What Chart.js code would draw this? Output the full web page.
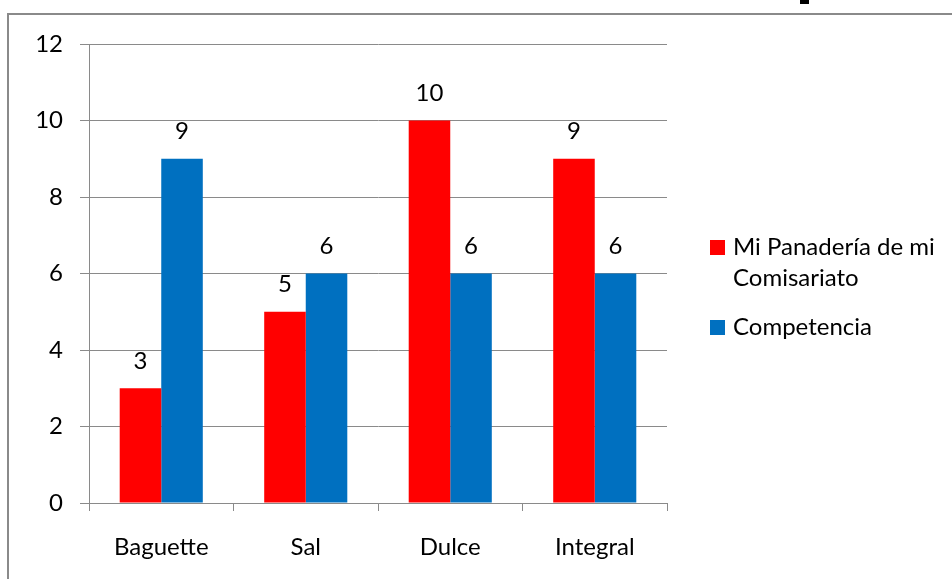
<!DOCTYPE html>
<html><head><meta charset="utf-8">
<script src="https://cdn.jsdelivr.net/npm/chart.js@4.4.0/dist/chart.umd.min.js"></script>
<style>
html,body{margin:0;padding:0;background:#fff;}
#wrap{position:relative;width:952px;height:579px;overflow:hidden;}
#frame{position:absolute;left:7px;top:13px;width:1000px;height:1000px;border-left:2px solid #8a8a8a;border-top:2px solid #8a8a8a;box-sizing:border-box;}
#mark{position:absolute;left:800px;top:0;width:9px;height:4px;background:#000;}
canvas{position:absolute;left:0;top:0;}
</style></head>
<body>
<div id="wrap"><div id="frame"></div><div id="mark"></div><canvas id="c" width="952" height="579"></canvas></div>
<script>
const categories = ["Baguette", "Sal", "Dulce", "Integral"];
const miPanaderia = [3, 5, 10, 9];
const competencia = [9, 6, 6, 6];
const seriesNames = [["Mi Panadería de mi", "Comisariato"], ["Competencia"]];
const yTicks = [0, 2, 4, 6, 8, 10, 12];

const FONT = "Lato, 'Open Sans', sans-serif";
const FSIZE = 24;

const valueLabels = {
  id: 'valueLabels',
  afterDatasetsDraw(chart) {
    const ctx = chart.ctx;
    ctx.save();
    ctx.font = FSIZE + "px " + FONT;
    ctx.fillStyle = "#000";
    ctx.textAlign = "center";
    ctx.textBaseline = "middle";
    chart.data.datasets.forEach((ds, i) => {
      chart.getDatasetMeta(i).data.forEach((bar, j) => {
        ctx.fillText(String(ds.data[j]), bar.x, bar.y - 27);
      });
    });
    ctx.restore();
  }
};

const customLegend = {
  id: 'customLegend',
  afterDraw(chart) {
    const ctx = chart.ctx;
    ctx.save();
    ctx.font = FSIZE + "px " + FONT;
    ctx.textBaseline = "middle";
    ctx.textAlign = "left";
    let y = 247;
    chart.data.datasets.forEach((ds, i) => {
      ctx.fillStyle = ds.backgroundColor;
      ctx.fillRect(710, y - 7, 15, 15);
      ctx.fillStyle = "#000";
      seriesNames[i].forEach((line, k) => {
        ctx.fillText(line, 733, y);
        y += 31;
      });
      y += 18;
    });
    ctx.restore();
  }
};

new Chart(document.getElementById('c'), {
  type: 'bar',
  data: {
    labels: categories,
    datasets: [
      { label: seriesNames[0].join(' '), data: miPanaderia, backgroundColor: '#FF0000' },
      { label: seriesNames[1].join(' '), data: competencia, backgroundColor: '#0070C0' }
    ]
  },
  options: {
    responsive: false,
    animation: false,
    devicePixelRatio: 1,
    layout: { padding: { left: 0, top: 44, right: 285, bottom: 0 } },
    datasets: { bar: { categoryPercentage: 0.575, barPercentage: 1.0 } },
    plugins: { legend: { display: false }, tooltip: { enabled: false } },
    scales: {
      x: {
        grid: { display: true, drawOnChartArea: false, drawTicks: true, tickLength: 8, color: '#8a8a8a', offset: true },
        border: { color: '#8a8a8a', width: 1 },
        ticks: { color: '#000', font: { family: FONT, size: FSIZE }, padding: 22 },
        afterFit(s) { s.height = 579 - 503; }
      },
      y: {
        min: 0, max: 12,
        afterBuildTicks(s) { s.ticks = yTicks.map(v => ({ value: v })); },
        grid: { color: '#8a8a8a', tickLength: 9 },
        border: { color: '#8a8a8a', width: 1 },
        ticks: { color: '#000', font: { family: FONT, size: FSIZE }, padding: 17 },
        afterFit(s) { s.width = 89; }
      }
    }
  },
  plugins: [valueLabels, customLegend]
});
</script>
</body></html>
